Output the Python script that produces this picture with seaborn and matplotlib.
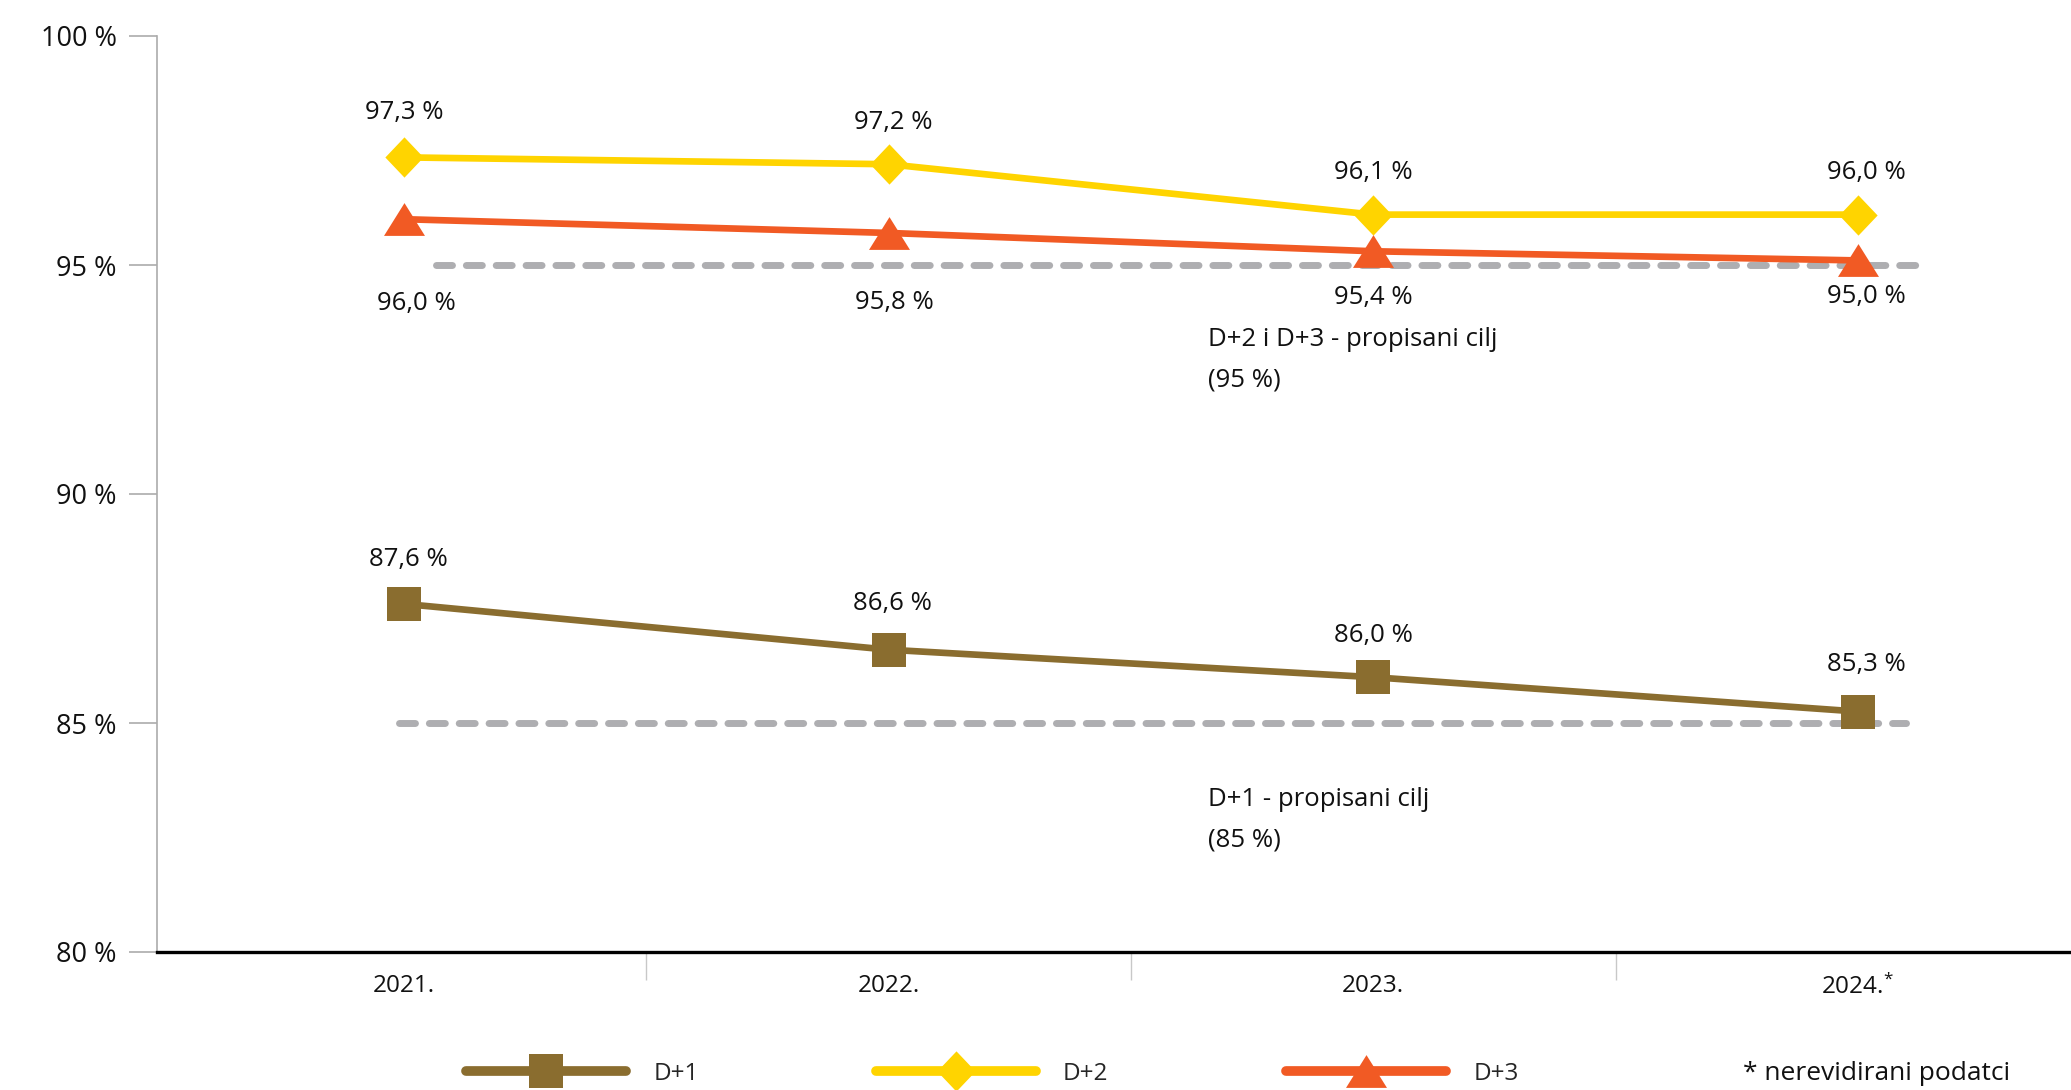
import matplotlib
matplotlib.use("Agg")
import matplotlib.pyplot as plt
import seaborn as sns
import pandas as pd
from matplotlib.path import Path

# ---------------- data ----------------
years = ["2021.", "2022.", "2023.", "2024.$^{*}$"]
series_names = ["D+1", "D+2", "D+3"]
d1_values = [87.6, 86.6, 86.0, 85.25]
d2_values = [97.35, 97.2, 96.1, 96.1]
d3_values = [96.0, 95.7, 95.3, 95.1]
d1_labels = ["87,6 %", "86,6 %", "86,0 %", "85,3 %"]
d2_labels = ["97,3 %", "97,2 %", "96,1 %", "96,0 %"]
d3_labels = ["96,0 %", "95,8 %", "95,4 %", "95,0 %"]
targets = [95, 85]
target_texts = ["D+2 i D+3 - propisani cilj\n(95 %)", "D+1 - propisani cilj\n(85 %)"]
y_ticks = [80, 85, 90, 95, 100]
y_tick_labels = ["80 %", "85 %", "90 %", "95 %", "100 %"]
footnote = "* nerevidirani podatci"

# ---------------- style ----------------
FONT = "Open Sans"
sns.set_style("white")
plt.rcParams["font.family"] = [FONT, "DejaVu Sans"]
plt.rcParams["mathtext.fontset"] = "custom"
plt.rcParams["mathtext.rm"] = FONT
plt.rcParams["mathtext.default"] = "regular"
plt.rcParams["lines.scale_dashes"] = False

colors = {"D+1": "#8A6D2F", "D+2": "#FFD400", "D+3": "#F15A24"}
grey = "#AEAEB1"
txt = "#111111"

diamond = Path([(0, 1), (0.95, 0), (0, -1), (-0.95, 0), (0, 1)],
               [Path.MOVETO, Path.LINETO, Path.LINETO, Path.LINETO, Path.CLOSEPOLY])
triangle = Path([(0, 0.8), (1, -0.8), (-1, -0.8), (0, 0.8)],
                [Path.MOVETO, Path.LINETO, Path.LINETO, Path.CLOSEPOLY])
markers = {"D+1": "s", "D+2": diamond, "D+3": triangle}
msizes = {"D+1": 25, "D+2": 29, "D+3": 29.5}

fig = plt.figure(figsize=(20.71, 10.90), dpi=100)
ax = fig.add_axes([157 / 2071, 138 / 1090, 1 - 157 / 2071, 916 / 1090])

x = list(range(len(years)))
df = pd.DataFrame({
    "x": x * 3,
    "value": d1_values + d2_values + d3_values,
    "series": ["D+1"] * 4 + ["D+2"] * 4 + ["D+3"] * 4,
})

# target dashed lines
target_spans = [(0.065, 3.14), (-0.01, 3.10)]
for t, (x0, x1) in zip(targets, target_spans):
    ax.plot([x0, x1], [t, t], color=grey, lw=5, zorder=1,
            dashes=(11.5, 10.0), dash_capstyle="round")

for name in series_names:
    sub = df[df["series"] == name]
    sns.lineplot(data=sub, x="x", y="value", ax=ax, color=colors[name],
                 lw=4.8, marker=markers[name], markersize=msizes[name],
                 mew=0, mec=colors[name], label=name, zorder=3)

# value labels
lab_fs = 18.5
d1_off = [(3, 32), (3, 33), (0, 30), (6, 34)]
d2_off = [(0, 32), (3, 30), (0, 30), (6, 30)]
d3_off = [(9, -61), (4, -50), (0, -33), (6, -26)]
for vals, labs, offs in [(d1_values, d1_labels, d1_off),
                         (d2_values, d2_labels, d2_off),
                         (d3_values, d3_labels, d3_off)]:
    for xi, v, lab, off in zip(x, vals, labs, offs):
        ax.annotate(lab, (xi, v), xytext=off, textcoords="offset points",
                    ha="center", va="center", fontsize=lab_fs, color=txt)

# target annotations
ax.text(1.658, 92.93, target_texts[0], fontsize=lab_fs, ha="left", va="center",
        linespacing=1.8, color=txt)
ax.text(1.658, 82.88, target_texts[1], fontsize=lab_fs, ha="left", va="center",
        linespacing=1.8, color=txt)

# axes
ax.set_xlim(-0.51, 3.44)
ax.set_ylim(80, 100)
ax.set_xlabel("")
ax.set_ylabel("")
ax.set_yticks(y_ticks)
ax.set_yticklabels(y_tick_labels, fontsize=19.5, color=txt)
ax.set_xticks([0.5, 1.5, 2.5])
ax.set_xticklabels([])
ax.set_xticks(x, minor=True)
ax.set_xticklabels(years, minor=True, fontsize=17.5, color=txt)
ax.tick_params(axis="x", which="major", length=20, width=1, color="#C8C8C8",
               direction="out", bottom=True)
ax.tick_params(axis="x", which="minor", length=0, pad=16, bottom=True)
ax.tick_params(axis="y", which="major", length=20, width=1.2, color="#ABABAB",
               direction="out", left=True, pad=9)
for s in ["top", "right"]:
    ax.spines[s].set_visible(False)
ax.spines["left"].set_color("#ABABAB")
ax.spines["left"].set_linewidth(1.2)
ax.spines["bottom"].set_color("black")
ax.spines["bottom"].set_linewidth(2.4)
ax.grid(False)

# legend
handles, labels = ax.get_legend_handles_labels()
ax.get_legend().remove()
leg = fig.legend(handles, labels, loc="center left",
                 bbox_to_anchor=(466 / 2071, 16 / 1090), ncol=3, frameon=False,
                 fontsize=17.5, handlelength=6.6, handletextpad=1.1,
                 columnspacing=7.3, borderpad=0, borderaxespad=0)
for ln in leg.get_lines():
    ln.set_linewidth(7)
    ln.set_solid_capstyle("round")
fig.text(1743 / 2071, 16 / 1090, footnote, fontsize=19, ha="left", va="center",
         color=txt)

fig.savefig("out.png", dpi=100)
